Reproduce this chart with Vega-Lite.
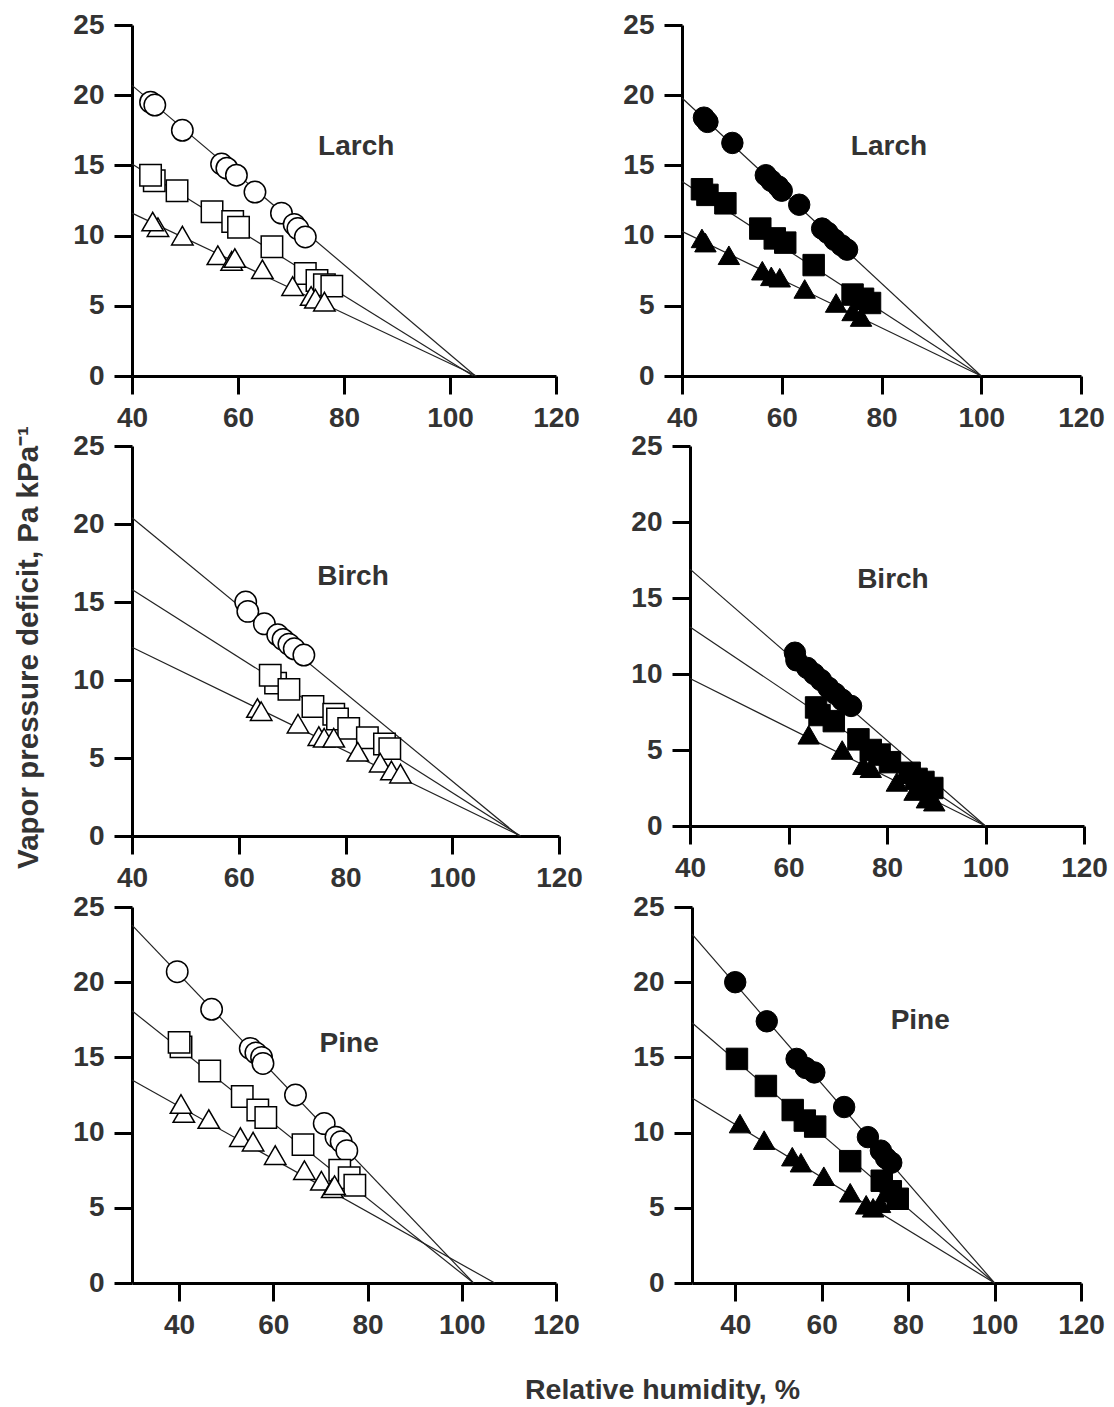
{
  "$schema": "https://vega.github.io/schema/vega-lite/v6.json",
  "background": "white",
  "padding": {"left": 12, "top": 11, "right": 5, "bottom": 5},
  "spacing": -7,
  "config": {
    "view": {"stroke": null},
    "axis": {
      "grid": false,
      "domainColor": "black",
      "domainWidth": 3,
      "tickColor": "black",
      "tickWidth": 3,
      "tickSize": 18,
      "labelFont": "Liberation Sans",
      "labelFontWeight": "bold",
      "labelFontSize": 28,
      "labelColor": "#333333",
      "labelPadding": 10,
      "labelFlush": false,
      "labelOverlap": false,
      "titleFont": "Liberation Sans",
      "titleFontWeight": "bold",
      "titleFontSize": 28.5,
      "titleColor": "#333333"
    },
    "text": {"font": "Liberation Sans", "fontWeight": "bold", "fontSize": 28, "color": "#333333"}
  },
  "datasets": {
    "labels": [
      {"p": "TL", "label": "Larch", "rh": 82.3, "vpd": 16.3},
      {"p": "TR", "label": "Larch", "rh": 81.5, "vpd": 16.3},
      {"p": "ML", "label": "Birch", "rh": 81.4, "vpd": 16.6},
      {"p": "MR", "label": "Birch", "rh": 81.2, "vpd": 16.2},
      {"p": "BL", "label": "Pine", "rh": 76.1, "vpd": 15.9},
      {"p": "BR", "label": "Pine", "rh": 82.8, "vpd": 17.4}
    ],
    "lines": [
      {"p": "TL", "s": "circle", "rh": 40, "vpd": 20.7}, {"p": "TL", "s": "circle", "rh": 104.8, "vpd": 0},
      {"p": "TL", "s": "square", "rh": 40, "vpd": 15.1}, {"p": "TL", "s": "square", "rh": 104.4, "vpd": 0},
      {"p": "TL", "s": "triangle", "rh": 40, "vpd": 11.6}, {"p": "TL", "s": "triangle", "rh": 105, "vpd": 0},
      {"p": "TR", "s": "circle", "rh": 40, "vpd": 19.8}, {"p": "TR", "s": "circle", "rh": 100, "vpd": 0},
      {"p": "TR", "s": "square", "rh": 40, "vpd": 13.85}, {"p": "TR", "s": "square", "rh": 100, "vpd": 0},
      {"p": "TR", "s": "triangle", "rh": 40, "vpd": 10.3}, {"p": "TR", "s": "triangle", "rh": 100, "vpd": 0},
      {"p": "ML", "s": "circle", "rh": 40, "vpd": 20.4}, {"p": "ML", "s": "circle", "rh": 112.5, "vpd": 0},
      {"p": "ML", "s": "square", "rh": 40, "vpd": 15.8}, {"p": "ML", "s": "square", "rh": 112.8, "vpd": 0},
      {"p": "ML", "s": "triangle", "rh": 40, "vpd": 12.1}, {"p": "ML", "s": "triangle", "rh": 112.8, "vpd": 0},
      {"p": "MR", "s": "circle", "rh": 40, "vpd": 16.9}, {"p": "MR", "s": "circle", "rh": 100, "vpd": 0},
      {"p": "MR", "s": "square", "rh": 40, "vpd": 13.1}, {"p": "MR", "s": "square", "rh": 100, "vpd": 0},
      {"p": "MR", "s": "triangle", "rh": 40, "vpd": 9.7}, {"p": "MR", "s": "triangle", "rh": 100, "vpd": 0},
      {"p": "BL", "s": "circle", "rh": 30, "vpd": 23.8}, {"p": "BL", "s": "circle", "rh": 102.5, "vpd": 0},
      {"p": "BL", "s": "square", "rh": 30, "vpd": 18.1}, {"p": "BL", "s": "square", "rh": 102.5, "vpd": 0},
      {"p": "BL", "s": "triangle", "rh": 30, "vpd": 13.5}, {"p": "BL", "s": "triangle", "rh": 107, "vpd": 0},
      {"p": "BR", "s": "circle", "rh": 30, "vpd": 23.2}, {"p": "BR", "s": "circle", "rh": 100, "vpd": 0},
      {"p": "BR", "s": "square", "rh": 30, "vpd": 17.3}, {"p": "BR", "s": "square", "rh": 100, "vpd": 0},
      {"p": "BR", "s": "triangle", "rh": 30, "vpd": 12.3}, {"p": "BR", "s": "triangle", "rh": 100, "vpd": 0}
    ],
    "pts": [
      {"p": "TL", "s": "circle", "rh": 43.5, "vpd": 19.5}, {"p": "TL", "s": "circle", "rh": 44.3, "vpd": 19.3}, {"p": "TL", "s": "circle", "rh": 49.5, "vpd": 17.5}, {"p": "TL", "s": "circle", "rh": 56.9, "vpd": 15.1}, {"p": "TL", "s": "circle", "rh": 57.9, "vpd": 14.8}, {"p": "TL", "s": "circle", "rh": 59.7, "vpd": 14.3}, {"p": "TL", "s": "circle", "rh": 63.2, "vpd": 13.1}, {"p": "TL", "s": "circle", "rh": 68.2, "vpd": 11.6}, {"p": "TL", "s": "circle", "rh": 70.6, "vpd": 10.8}, {"p": "TL", "s": "circle", "rh": 71.3, "vpd": 10.5}, {"p": "TL", "s": "circle", "rh": 72.7, "vpd": 9.9},
      {"p": "TL", "s": "square", "rh": 44.2, "vpd": 13.9}, {"p": "TL", "s": "square", "rh": 43.5, "vpd": 14.3}, {"p": "TL", "s": "square", "rh": 48.5, "vpd": 13.2}, {"p": "TL", "s": "square", "rh": 55.1, "vpd": 11.7}, {"p": "TL", "s": "square", "rh": 59.0, "vpd": 11.0}, {"p": "TL", "s": "square", "rh": 60.1, "vpd": 10.6}, {"p": "TL", "s": "square", "rh": 66.4, "vpd": 9.2}, {"p": "TL", "s": "square", "rh": 72.7, "vpd": 7.3}, {"p": "TL", "s": "square", "rh": 74.9, "vpd": 6.8}, {"p": "TL", "s": "square", "rh": 76.3, "vpd": 6.5}, {"p": "TL", "s": "square", "rh": 77.7, "vpd": 6.4},
      {"p": "TL", "s": "triangle", "rh": 44.9, "vpd": 10.6}, {"p": "TL", "s": "triangle", "rh": 43.9, "vpd": 11.0}, {"p": "TL", "s": "triangle", "rh": 49.5, "vpd": 10.0}, {"p": "TL", "s": "triangle", "rh": 56.2, "vpd": 8.6}, {"p": "TL", "s": "triangle", "rh": 58.8, "vpd": 8.2}, {"p": "TL", "s": "triangle", "rh": 59.4, "vpd": 8.4}, {"p": "TL", "s": "triangle", "rh": 64.6, "vpd": 7.6}, {"p": "TL", "s": "triangle", "rh": 70.3, "vpd": 6.4}, {"p": "TL", "s": "triangle", "rh": 73.8, "vpd": 5.7}, {"p": "TL", "s": "triangle", "rh": 74.6, "vpd": 5.5}, {"p": "TL", "s": "triangle", "rh": 76.3, "vpd": 5.3},
      {"p": "TR", "s": "circle", "rh": 44.4, "vpd": 18.4}, {"p": "TR", "s": "circle", "rh": 45.1, "vpd": 18.1}, {"p": "TR", "s": "circle", "rh": 50.1, "vpd": 16.6}, {"p": "TR", "s": "circle", "rh": 56.8, "vpd": 14.3}, {"p": "TR", "s": "circle", "rh": 57.9, "vpd": 13.9}, {"p": "TR", "s": "circle", "rh": 59.3, "vpd": 13.5}, {"p": "TR", "s": "circle", "rh": 60.0, "vpd": 13.2}, {"p": "TR", "s": "circle", "rh": 63.5, "vpd": 12.2}, {"p": "TR", "s": "circle", "rh": 68.1, "vpd": 10.5}, {"p": "TR", "s": "circle", "rh": 69.2, "vpd": 10.2}, {"p": "TR", "s": "circle", "rh": 70.6, "vpd": 9.7}, {"p": "TR", "s": "circle", "rh": 72.0, "vpd": 9.3}, {"p": "TR", "s": "circle", "rh": 73.1, "vpd": 9.0},
      {"p": "TR", "s": "square", "rh": 44.0, "vpd": 13.3}, {"p": "TR", "s": "square", "rh": 45.1, "vpd": 12.9}, {"p": "TR", "s": "square", "rh": 48.7, "vpd": 12.3}, {"p": "TR", "s": "square", "rh": 55.7, "vpd": 10.5}, {"p": "TR", "s": "square", "rh": 58.6, "vpd": 9.8}, {"p": "TR", "s": "square", "rh": 60.7, "vpd": 9.5}, {"p": "TR", "s": "square", "rh": 66.4, "vpd": 7.9}, {"p": "TR", "s": "square", "rh": 74.2, "vpd": 5.8}, {"p": "TR", "s": "square", "rh": 76.3, "vpd": 5.5}, {"p": "TR", "s": "square", "rh": 77.7, "vpd": 5.2},
      {"p": "TR", "s": "triangle", "rh": 44.0, "vpd": 9.8}, {"p": "TR", "s": "triangle", "rh": 44.7, "vpd": 9.5}, {"p": "TR", "s": "triangle", "rh": 49.4, "vpd": 8.6}, {"p": "TR", "s": "triangle", "rh": 56.1, "vpd": 7.5}, {"p": "TR", "s": "triangle", "rh": 57.9, "vpd": 7.1}, {"p": "TR", "s": "triangle", "rh": 59.6, "vpd": 7.0}, {"p": "TR", "s": "triangle", "rh": 64.6, "vpd": 6.2}, {"p": "TR", "s": "triangle", "rh": 70.9, "vpd": 5.2}, {"p": "TR", "s": "triangle", "rh": 74.2, "vpd": 4.6}, {"p": "TR", "s": "triangle", "rh": 75.9, "vpd": 4.2},
      {"p": "ML", "s": "circle", "rh": 61.3, "vpd": 15.0}, {"p": "ML", "s": "circle", "rh": 61.7, "vpd": 14.4}, {"p": "ML", "s": "circle", "rh": 64.8, "vpd": 13.6}, {"p": "ML", "s": "circle", "rh": 67.3, "vpd": 12.9}, {"p": "ML", "s": "circle", "rh": 68.3, "vpd": 12.6}, {"p": "ML", "s": "circle", "rh": 69.4, "vpd": 12.3}, {"p": "ML", "s": "circle", "rh": 70.4, "vpd": 12.0}, {"p": "ML", "s": "circle", "rh": 72.2, "vpd": 11.6},
      {"p": "ML", "s": "square", "rh": 66.9, "vpd": 9.8}, {"p": "ML", "s": "square", "rh": 65.9, "vpd": 10.3}, {"p": "ML", "s": "square", "rh": 69.4, "vpd": 9.4}, {"p": "ML", "s": "square", "rh": 73.9, "vpd": 8.3}, {"p": "ML", "s": "square", "rh": 77.8, "vpd": 7.8}, {"p": "ML", "s": "square", "rh": 78.5, "vpd": 7.5}, {"p": "ML", "s": "square", "rh": 80.6, "vpd": 6.9}, {"p": "ML", "s": "square", "rh": 84.1, "vpd": 6.3}, {"p": "ML", "s": "square", "rh": 87.3, "vpd": 5.9}, {"p": "ML", "s": "square", "rh": 88.3, "vpd": 5.6},
      {"p": "ML", "s": "triangle", "rh": 63.5, "vpd": 8.2}, {"p": "ML", "s": "triangle", "rh": 64.2, "vpd": 8.0}, {"p": "ML", "s": "triangle", "rh": 71.1, "vpd": 7.2}, {"p": "ML", "s": "triangle", "rh": 75.0, "vpd": 6.4}, {"p": "ML", "s": "triangle", "rh": 76.0, "vpd": 6.3}, {"p": "ML", "s": "triangle", "rh": 77.8, "vpd": 6.3}, {"p": "ML", "s": "triangle", "rh": 82.3, "vpd": 5.4}, {"p": "ML", "s": "triangle", "rh": 86.5, "vpd": 4.7}, {"p": "ML", "s": "triangle", "rh": 88.6, "vpd": 4.2}, {"p": "ML", "s": "triangle", "rh": 90.3, "vpd": 4.0},
      {"p": "MR", "s": "circle", "rh": 61.3, "vpd": 11.4}, {"p": "MR", "s": "circle", "rh": 61.6, "vpd": 10.9}, {"p": "MR", "s": "circle", "rh": 63.8, "vpd": 10.4}, {"p": "MR", "s": "circle", "rh": 65.2, "vpd": 10.0}, {"p": "MR", "s": "circle", "rh": 66.6, "vpd": 9.6}, {"p": "MR", "s": "circle", "rh": 68.1, "vpd": 9.1}, {"p": "MR", "s": "circle", "rh": 69.5, "vpd": 8.7}, {"p": "MR", "s": "circle", "rh": 70.9, "vpd": 8.3}, {"p": "MR", "s": "circle", "rh": 72.7, "vpd": 7.9},
      {"p": "MR", "s": "square", "rh": 65.6, "vpd": 7.8}, {"p": "MR", "s": "square", "rh": 66.3, "vpd": 7.3}, {"p": "MR", "s": "square", "rh": 69.2, "vpd": 6.9}, {"p": "MR", "s": "square", "rh": 74.2, "vpd": 5.7}, {"p": "MR", "s": "square", "rh": 76.7, "vpd": 5.0}, {"p": "MR", "s": "square", "rh": 78.5, "vpd": 4.7}, {"p": "MR", "s": "square", "rh": 80.6, "vpd": 4.2}, {"p": "MR", "s": "square", "rh": 84.6, "vpd": 3.5}, {"p": "MR", "s": "square", "rh": 86.0, "vpd": 3.1}, {"p": "MR", "s": "square", "rh": 87.4, "vpd": 2.9}, {"p": "MR", "s": "square", "rh": 89.2, "vpd": 2.5},
      {"p": "MR", "s": "triangle", "rh": 64.1, "vpd": 6.0}, {"p": "MR", "s": "triangle", "rh": 70.9, "vpd": 5.0}, {"p": "MR", "s": "triangle", "rh": 75.2, "vpd": 4.0}, {"p": "MR", "s": "triangle", "rh": 76.7, "vpd": 3.8}, {"p": "MR", "s": "triangle", "rh": 82.0, "vpd": 2.9}, {"p": "MR", "s": "triangle", "rh": 85.6, "vpd": 2.3}, {"p": "MR", "s": "triangle", "rh": 88.1, "vpd": 1.8}, {"p": "MR", "s": "triangle", "rh": 89.6, "vpd": 1.6},
      {"p": "BL", "s": "circle", "rh": 39.6, "vpd": 20.7}, {"p": "BL", "s": "circle", "rh": 46.9, "vpd": 18.2}, {"p": "BL", "s": "circle", "rh": 55.1, "vpd": 15.6}, {"p": "BL", "s": "circle", "rh": 56.3, "vpd": 15.3}, {"p": "BL", "s": "circle", "rh": 57.5, "vpd": 15.0}, {"p": "BL", "s": "circle", "rh": 57.8, "vpd": 14.6}, {"p": "BL", "s": "circle", "rh": 64.7, "vpd": 12.5}, {"p": "BL", "s": "circle", "rh": 70.8, "vpd": 10.6}, {"p": "BL", "s": "circle", "rh": 73.3, "vpd": 9.7}, {"p": "BL", "s": "circle", "rh": 74.4, "vpd": 9.4}, {"p": "BL", "s": "circle", "rh": 75.6, "vpd": 8.8},
      {"p": "BL", "s": "square", "rh": 40.4, "vpd": 15.7}, {"p": "BL", "s": "square", "rh": 40.0, "vpd": 16.0}, {"p": "BL", "s": "square", "rh": 46.5, "vpd": 14.1}, {"p": "BL", "s": "square", "rh": 53.4, "vpd": 12.4}, {"p": "BL", "s": "square", "rh": 56.7, "vpd": 11.5}, {"p": "BL", "s": "square", "rh": 58.4, "vpd": 11.0}, {"p": "BL", "s": "square", "rh": 66.3, "vpd": 9.2}, {"p": "BL", "s": "square", "rh": 74.1, "vpd": 7.5}, {"p": "BL", "s": "square", "rh": 76.1, "vpd": 7.0}, {"p": "BL", "s": "square", "rh": 77.3, "vpd": 6.5},
      {"p": "BL", "s": "triangle", "rh": 41.0, "vpd": 11.3}, {"p": "BL", "s": "triangle", "rh": 40.4, "vpd": 11.9}, {"p": "BL", "s": "triangle", "rh": 46.3, "vpd": 10.9}, {"p": "BL", "s": "triangle", "rh": 53.0, "vpd": 9.7}, {"p": "BL", "s": "triangle", "rh": 55.7, "vpd": 9.4}, {"p": "BL", "s": "triangle", "rh": 60.4, "vpd": 8.5}, {"p": "BL", "s": "triangle", "rh": 66.6, "vpd": 7.5}, {"p": "BL", "s": "triangle", "rh": 70.2, "vpd": 6.8}, {"p": "BL", "s": "triangle", "rh": 72.5, "vpd": 6.3}, {"p": "BL", "s": "triangle", "rh": 73.0, "vpd": 6.5},
      {"p": "BR", "s": "circle", "rh": 40.0, "vpd": 20.0}, {"p": "BR", "s": "circle", "rh": 47.3, "vpd": 17.4}, {"p": "BR", "s": "circle", "rh": 54.2, "vpd": 14.9}, {"p": "BR", "s": "circle", "rh": 56.3, "vpd": 14.3}, {"p": "BR", "s": "circle", "rh": 58.3, "vpd": 14.0}, {"p": "BR", "s": "circle", "rh": 65.2, "vpd": 11.7}, {"p": "BR", "s": "circle", "rh": 70.7, "vpd": 9.7}, {"p": "BR", "s": "circle", "rh": 73.7, "vpd": 8.8}, {"p": "BR", "s": "circle", "rh": 74.9, "vpd": 8.3}, {"p": "BR", "s": "circle", "rh": 76.1, "vpd": 8.0},
      {"p": "BR", "s": "square", "rh": 40.4, "vpd": 14.9}, {"p": "BR", "s": "square", "rh": 47.1, "vpd": 13.1}, {"p": "BR", "s": "square", "rh": 53.3, "vpd": 11.5}, {"p": "BR", "s": "square", "rh": 56.1, "vpd": 10.8}, {"p": "BR", "s": "square", "rh": 58.5, "vpd": 10.4}, {"p": "BR", "s": "square", "rh": 66.6, "vpd": 8.1}, {"p": "BR", "s": "square", "rh": 73.9, "vpd": 6.8}, {"p": "BR", "s": "square", "rh": 76.0, "vpd": 6.1}, {"p": "BR", "s": "square", "rh": 77.6, "vpd": 5.6},
      {"p": "BR", "s": "triangle", "rh": 41.1, "vpd": 10.6}, {"p": "BR", "s": "triangle", "rh": 46.7, "vpd": 9.5}, {"p": "BR", "s": "triangle", "rh": 53.2, "vpd": 8.4}, {"p": "BR", "s": "triangle", "rh": 55.2, "vpd": 8.0}, {"p": "BR", "s": "triangle", "rh": 60.5, "vpd": 7.1}, {"p": "BR", "s": "triangle", "rh": 66.6, "vpd": 6.0}, {"p": "BR", "s": "triangle", "rh": 70.3, "vpd": 5.2}, {"p": "BR", "s": "triangle", "rh": 71.9, "vpd": 5.0}, {"p": "BR", "s": "triangle", "rh": 73.5, "vpd": 5.3}
    ]
  },
  "vconcat": [
    {
      "bounds": "flush",
      "spacing": 126,
      "hconcat": [
        {
          "width": 424, "height": 351,
          "encoding": {
            "x": {"field": "rh", "type": "quantitative", "scale": {"domain": [40, 120], "nice": false, "zero": false}, "axis": {"values": [40, 60, 80, 100, 120], "title": null}},
            "y": {"field": "vpd", "type": "quantitative", "scale": {"domain": [0, 25], "nice": false}, "axis": {"values": [0, 5, 10, 15, 20, 25], "title": null}}
          },
          "layer": [
            {"data": {"name": "lines"}, "transform": [{"filter": "datum.p === 'TL'"}], "mark": {"type": "line", "color": "#222222", "strokeWidth": 1.2}, "encoding": {"detail": {"field": "s"}}},
            {"data": {"name": "pts"}, "transform": [{"filter": "datum.p === 'TL'"}], "mark": {"type": "point", "filled": true, "fill": "white", "stroke": "black", "strokeWidth": 1.5, "size": 460, "opacity": 1}, "encoding": {"shape": {"field": "s", "type": "nominal", "scale": {"domain": ["circle", "square", "triangle"], "range": ["circle", "square", "triangle-up"]}, "legend": null}}},
            {"data": {"name": "labels"}, "transform": [{"filter": "datum.p === 'TL'"}], "mark": {"type": "text"}, "encoding": {"text": {"field": "label"}}}
          ]
        },
        {
          "width": 399, "height": 351,
          "encoding": {
            "x": {"field": "rh", "type": "quantitative", "scale": {"domain": [40, 120], "nice": false, "zero": false}, "axis": {"values": [40, 60, 80, 100, 120], "title": null}},
            "y": {"field": "vpd", "type": "quantitative", "scale": {"domain": [0, 25], "nice": false}, "axis": {"values": [0, 5, 10, 15, 20, 25], "title": null}}
          },
          "layer": [
            {"data": {"name": "lines"}, "transform": [{"filter": "datum.p === 'TR'"}], "mark": {"type": "line", "color": "#222222", "strokeWidth": 1.2}, "encoding": {"detail": {"field": "s"}}},
            {"data": {"name": "pts"}, "transform": [{"filter": "datum.p === 'TR'"}], "mark": {"type": "point", "filled": true, "fill": "black", "stroke": "black", "strokeWidth": 1, "size": 460, "opacity": 1}, "encoding": {"shape": {"field": "s", "type": "nominal", "scale": {"domain": ["circle", "square", "triangle"], "range": ["circle", "square", "triangle-up"]}, "legend": null}}},
            {"data": {"name": "labels"}, "transform": [{"filter": "datum.p === 'TR'"}], "mark": {"type": "text"}, "encoding": {"text": {"field": "label"}}}
          ]
        }
      ]
    },
    {
      "spacing": 1,
      "vconcat": [
        {
          "bounds": "flush",
          "spacing": 131,
          "hconcat": [
            {
              "width": 427, "height": 390,
              "encoding": {
                "x": {"field": "rh", "type": "quantitative", "scale": {"domain": [40, 120], "nice": false, "zero": false}, "axis": {"values": [40, 60, 80, 100, 120], "title": null}},
                "y": {"field": "vpd", "type": "quantitative", "scale": {"domain": [0, 25], "nice": false}, "axis": {"values": [0, 5, 10, 15, 20, 25], "title": "Vapor pressure deficit, Pa kPa⁻¹", "titleFontSize": 29.5, "titleX": -89, "titleY": 201}}
              },
              "layer": [
                {"data": {"name": "lines"}, "transform": [{"filter": "datum.p === 'ML'"}], "mark": {"type": "line", "color": "#222222", "strokeWidth": 1.2}, "encoding": {"detail": {"field": "s"}}},
                {"data": {"name": "pts"}, "transform": [{"filter": "datum.p === 'ML'"}], "mark": {"type": "point", "filled": true, "fill": "white", "stroke": "black", "strokeWidth": 1.5, "size": 460, "opacity": 1}, "encoding": {"shape": {"field": "s", "type": "nominal", "scale": {"domain": ["circle", "square", "triangle"], "range": ["circle", "square", "triangle-up"]}, "legend": null}}},
                {"data": {"name": "labels"}, "transform": [{"filter": "datum.p === 'ML'"}], "mark": {"type": "text"}, "encoding": {"text": {"field": "label"}}}
              ]
            },
            {
              "width": 394, "height": 380,
              "encoding": {
                "x": {"field": "rh", "type": "quantitative", "scale": {"domain": [40, 120], "nice": false, "zero": false}, "axis": {"values": [40, 60, 80, 100, 120], "title": null}},
                "y": {"field": "vpd", "type": "quantitative", "scale": {"domain": [0, 25], "nice": false}, "axis": {"values": [0, 5, 10, 15, 20, 25], "title": null}}
              },
              "layer": [
                {"data": {"name": "lines"}, "transform": [{"filter": "datum.p === 'MR'"}], "mark": {"type": "line", "color": "#222222", "strokeWidth": 1.2}, "encoding": {"detail": {"field": "s"}}},
                {"data": {"name": "pts"}, "transform": [{"filter": "datum.p === 'MR'"}], "mark": {"type": "point", "filled": true, "fill": "black", "stroke": "black", "strokeWidth": 1, "size": 460, "opacity": 1}, "encoding": {"shape": {"field": "s", "type": "nominal", "scale": {"domain": ["circle", "square", "triangle"], "range": ["circle", "square", "triangle-up"]}, "legend": null}}},
                {"data": {"name": "labels"}, "transform": [{"filter": "datum.p === 'MR'"}], "mark": {"type": "text"}, "encoding": {"text": {"field": "label"}}}
              ]
            }
          ]
        },
        {
          "bounds": "flush",
          "spacing": 136,
          "hconcat": [
            {
              "width": 424, "height": 376,
              "encoding": {
                "x": {"field": "rh", "type": "quantitative", "scale": {"domain": [30, 120], "nice": false, "zero": false}, "axis": {"values": [40, 60, 80, 100, 120], "title": "Relative humidity, %", "titleX": 530, "titleY": 115, "titleBaseline": "alphabetic"}},
                "y": {"field": "vpd", "type": "quantitative", "scale": {"domain": [0, 25], "nice": false}, "axis": {"values": [0, 5, 10, 15, 20, 25], "title": null}}
              },
              "layer": [
                {"data": {"name": "lines"}, "transform": [{"filter": "datum.p === 'BL'"}], "mark": {"type": "line", "color": "#222222", "strokeWidth": 1.2}, "encoding": {"detail": {"field": "s"}}},
                {"data": {"name": "pts"}, "transform": [{"filter": "datum.p === 'BL'"}], "mark": {"type": "point", "filled": true, "fill": "white", "stroke": "black", "strokeWidth": 1.5, "size": 460, "opacity": 1}, "encoding": {"shape": {"field": "s", "type": "nominal", "scale": {"domain": ["circle", "square", "triangle"], "range": ["circle", "square", "triangle-up"]}, "legend": null}}},
                {"data": {"name": "labels"}, "transform": [{"filter": "datum.p === 'BL'"}], "mark": {"type": "text"}, "encoding": {"text": {"field": "label"}}}
              ]
            },
            {
              "width": 389, "height": 376,
              "encoding": {
                "x": {"field": "rh", "type": "quantitative", "scale": {"domain": [30, 120], "nice": false, "zero": false}, "axis": {"values": [40, 60, 80, 100, 120], "title": null}},
                "y": {"field": "vpd", "type": "quantitative", "scale": {"domain": [0, 25], "nice": false}, "axis": {"values": [0, 5, 10, 15, 20, 25], "title": null}}
              },
              "layer": [
                {"data": {"name": "lines"}, "transform": [{"filter": "datum.p === 'BR'"}], "mark": {"type": "line", "color": "#222222", "strokeWidth": 1.2}, "encoding": {"detail": {"field": "s"}}},
                {"data": {"name": "pts"}, "transform": [{"filter": "datum.p === 'BR'"}], "mark": {"type": "point", "filled": true, "fill": "black", "stroke": "black", "strokeWidth": 1, "size": 460, "opacity": 1}, "encoding": {"shape": {"field": "s", "type": "nominal", "scale": {"domain": ["circle", "square", "triangle"], "range": ["circle", "square", "triangle-up"]}, "legend": null}}},
                {"data": {"name": "labels"}, "transform": [{"filter": "datum.p === 'BR'"}], "mark": {"type": "text"}, "encoding": {"text": {"field": "label"}}}
              ]
            }
          ]
        }
      ]
    }
  ]
}
